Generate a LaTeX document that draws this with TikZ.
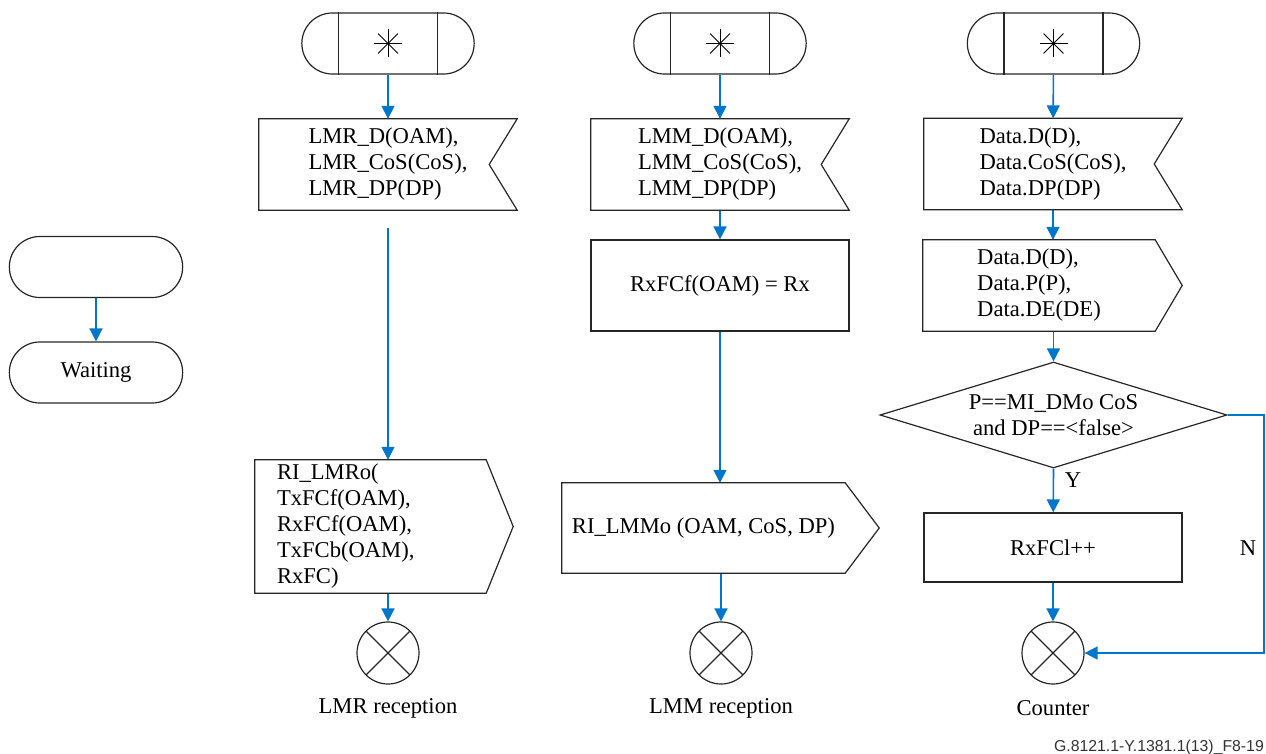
\documentclass[tikz,border=0pt]{standalone}
\usepackage{fontspec}
\setmainfont{Liberation Serif}
\newfontfamily\figfont{Liberation Sans}
\usetikzlibrary{shapes.misc,shapes.geometric,arrows.meta,calc}
\definecolor{flowblue}{RGB}{0,118,204}
\tikzset{
    every node/.style={font=\fontsize{22.6}{26}\selectfont},
    outline/.style={draw=black!85, line width=1.2pt},
    term/.style={outline, rounded rectangle, minimum width=179pt, minimum height=61pt},
    state/.style={outline, rounded rectangle, minimum width=180pt, minimum height=61pt},
    task/.style={outline, rectangle, minimum width=258pt, minimum height=91pt},
    sig/.style={rectangle, minimum height=91pt, align=left, inner sep=0pt},
    decision/.style={outline, diamond, minimum width=347pt, minimum height=106pt,
        inner sep=0pt, aspect=3.3, align=center},
    stop/.style={outline, circle, minimum size=62pt, inner sep=0pt,
        path picture={\draw[line width=1.2pt]
            (path picture bounding box.north west) -- (path picture bounding box.south east)
            (path picture bounding box.north east) -- (path picture bounding box.south west);}},
    flow/.style={draw=flowblue, line width=1.6pt, -{Triangle[width=13pt,length=13pt]}}
}
\begin{document}
\begin{tikzpicture}[x=1pt,y=-1pt]
    \useasboundingbox (0,0) rectangle (1266,754);
    % Waiting state
    \node[state] (idle) at (96,267) {};
    \node[state] (wait) at (96,372.5) {Waiting};
    \draw[flow] (idle) -- (wait);
    % LMR reception
    \node[term] (start1) at (388,43.5) {};
    \node[sig, minimum width=258pt] (in1) at (388,164.5)
        {LMR\_D(OAM),\\LMR\_CoS(CoS),\\LMR\_DP(DP)};
    \node[sig, minimum width=231pt, minimum height=133pt, text width=187pt,
        inner xsep=22pt] (out1) at (370.5,526.5)
        {RI\_LMRo(\\TxFCf(OAM),\\RxFCf(OAM),\\TxFCb(OAM),\\RxFC)};
    \node[stop] (end1) at (388,653) {};
    \node (lbl1) at (388,708) {LMR reception};
    \draw[flow] (start1) -- (in1);
    \draw[flow, shorten <=18pt] (in1) -- (in1 |- out1.north);
    \draw[flow] (end1 |- out1.south) -- (end1);
    % LMM reception
    \node[term] (start2) at (720,43.5) {};
    \node[sig, minimum width=258pt] (in2) at (720,164.5)
        {LMM\_D(OAM),\\LMM\_CoS(CoS),\\LMM\_DP(DP)};
    \node[task] (task2) at (720,285.5) {RxFCf(OAM) = Rx};
    \node[sig, minimum width=283pt, minimum height=90pt] (out2) at (703.5,528)
        {RI\_LMMo (OAM, CoS, DP)};
    \node[stop] (end2) at (721,653) {};
    \node (lbl2) at (721,708) {LMM reception};
    \draw[flow] (start2) -- (in2);
    \draw[flow] (in2) -- (task2);
    \draw[flow] (task2.south) -- (task2.south |- out2.north);
    \draw[flow] (end2 |- out2.south) -- (end2);
    % Counter
    \node[term] (start3) at (1053.5,43.5) {};
    \node[sig, minimum width=258pt] (in3) at (1053,164)
        {Data.D(D),\\Data.CoS(CoS),\\Data.DP(DP)};
    \node[sig, minimum width=232pt] (out3) at (1039,285.5)
        {Data.D(D),\\Data.P(P),\\Data.DE(DE)};
    \node[decision] (dec) at (1053.5,415) {P==MI\_DMo CoS\\and DP==<false>};
    \node[task, minimum height=69pt] (task3) at (1053,547.5) {RxFCl++};
    \node[stop] (end3) at (1053,653) {};
    \node (lbl3) at (1053,708) {Counter};
    \coordinate (nturn) at (1264,415);
    \draw[flow] (start3) -- (in3);
    \draw[flow] (in3.south) -- (in3.south |- out3.north);
    \draw[flow] (dec.north |- out3.south) -- (dec.north);
    \draw[flow] (dec.south) -- (task3);
    \draw[flow] (task3) -- (end3);
    \draw[flow] (dec.east) -- (nturn) |- (end3.east);
    \node (yes) at (1073,480) {Y};
    \node (no) at (1248,548) {N};
    % Bars and star of the start symbols
    \foreach \s in {start1,start2,start3} {
        \draw[outline] ($(\s.north)+(-49.5,0)$) -- ($(\s.south)+(-49.5,0)$)
            ($(\s.north)+(49.5,0)$) -- ($(\s.south)+(49.5,0)$);
        \foreach \a in {0,45,90,135}
            \draw[line width=1pt] ($(\s)+(\a:14)$) -- ($(\s)+(\a+180:14)$);
    }
    % Input signals, notch on the right
    \foreach \n in {in1,in2,in3}
        \draw[outline] (\n.north west) -- (\n.north east) -- ($(\n.east)+(-28,0)$)
            -- (\n.south east) -- (\n.south west) -- cycle;
    % Output signals, point on the right
    \foreach \n/\d in {out1/27,out2/34,out3/27}
        \draw[outline] (\n.north west) -- (\n.north east) -- ($(\n.east)+(\d,0)$)
            -- (\n.south east) -- (\n.south west) -- cycle;
    \node[font=\figfont\fontsize{15.8}{18}\selectfont, text=black!80, anchor=base east,
        inner sep=0pt] (fig) at (1264,751) {G.8121.1-Y.1381.1(13)\_F8-19};
\end{tikzpicture}
\end{document}
